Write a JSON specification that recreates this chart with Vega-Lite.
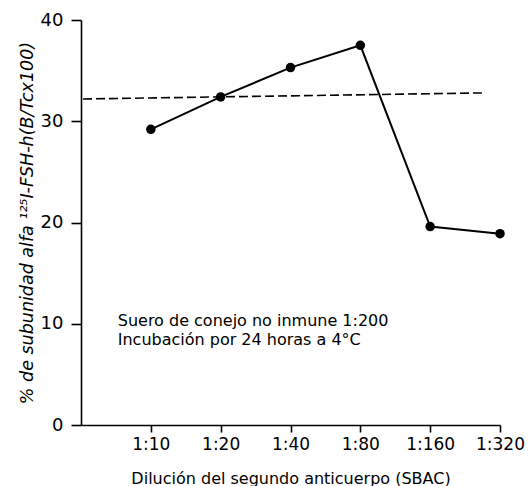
{
  "$schema": "https://vega.github.io/schema/vega-lite/v6.json",
  "width": 419,
  "height": 405,
  "autosize": "none",
  "padding": {"left": 81, "top": 20, "right": 29, "bottom": 61},
  "background": "white",
  "config": {
    "view": {"stroke": null},
    "font": "DejaVu Sans",
    "axis": {
      "grid": false,
      "domainColor": "black",
      "domainWidth": 1.6,
      "tickColor": "black",
      "tickWidth": 1.6,
      "tickSize": 8,
      "labelColor": "black",
      "labelFont": "DejaVu Sans",
      "labelFontSize": 17,
      "titleColor": "black",
      "titleFont": "DejaVu Sans",
      "titleFontWeight": "normal"
    }
  },
  "datasets": {
    "union": [
      {"dilucion": 10, "porcentaje": 29.2},
      {"dilucion": 20, "porcentaje": 32.4},
      {"dilucion": 40, "porcentaje": 35.3},
      {"dilucion": 80, "porcentaje": 37.5},
      {"dilucion": 160, "porcentaje": 19.6},
      {"dilucion": 320, "porcentaje": 18.9}
    ],
    "referencia": [
      {"dilucion": 5.1, "porcentaje": 32.2},
      {"dilucion": 274, "porcentaje": 32.8}
    ],
    "notas": [
      {"dilucion": 7.2, "porcentaje": 10.3, "texto": "Suero de conejo no inmune 1:200"},
      {"dilucion": 7.2, "porcentaje": 8.4, "texto": "Incubación por 24 horas a 4°C"}
    ]
  },
  "encoding": {
    "x": {
      "field": "dilucion",
      "type": "quantitative",
      "scale": {"type": "log", "base": 2, "domain": [5, 320], "nice": false, "zero": false},
      "axis": {
        "title": "Dilución del segundo anticuerpo (SBAC)",
        "titleFontSize": 16,
        "titlePadding": 18,
        "values": [10, 20, 40, 80, 160, 320],
        "labelExpr": "'1:' + datum.value",
        "labelOverlap": false,
        "labelFlush": false,
        "labelPadding": 4,
        "tickSize": 7
      }
    },
    "y": {
      "field": "porcentaje",
      "type": "quantitative",
      "scale": {"domain": [0, 40], "nice": false},
      "axis": {
        "title": "% de subunidad alfa ¹²⁵I-FSH-h(B/Tcx100)",
        "titleFontSize": 17.5,
        "titleFontStyle": "italic",
        "titlePadding": 4,
        "values": [0, 10, 20, 30, 40],
        "labelFontSize": 18,
        "tickSize": 10,
        "labelPadding": 8
      }
    }
  },
  "layer": [
    {
      "data": {"name": "referencia"},
      "mark": {"type": "line", "color": "black", "strokeWidth": 1.6, "strokeDash": [9, 4]}
    },
    {
      "data": {"name": "union"},
      "mark": {"type": "line", "color": "black", "strokeWidth": 2}
    },
    {
      "data": {"name": "union"},
      "mark": {"type": "point", "filled": true, "shape": "circle", "size": 90, "color": "black", "opacity": 1}
    },
    {
      "data": {"name": "notas"},
      "mark": {"type": "text", "align": "left", "baseline": "middle", "fontSize": 16, "color": "black", "font": "DejaVu Sans"},
      "encoding": {"text": {"field": "texto"}}
    }
  ]
}
